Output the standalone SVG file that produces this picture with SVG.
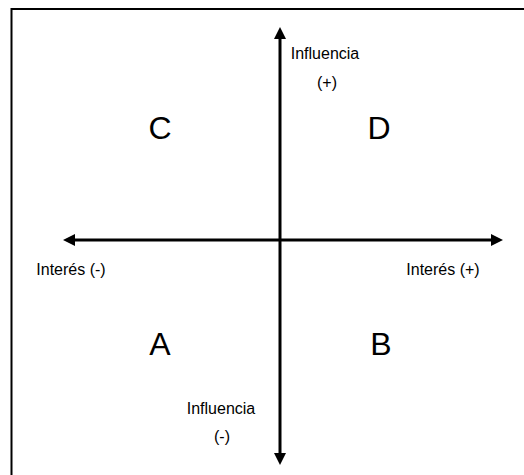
<svg xmlns="http://www.w3.org/2000/svg" width="524" height="475" viewBox="0 0 524 475">
<style>
.lbl{font-family:"Liberation Sans",Arial,sans-serif;font-size:16px;fill:#000;text-anchor:middle}
.big{font-family:"Liberation Sans",Arial,sans-serif;font-size:32px;fill:#000;text-anchor:middle}
.ax{stroke:#000;stroke-width:3;fill:none}
</style>
<defs>
<marker id="ah" viewBox="0 0 12 12" refX="0" refY="6" markerWidth="12" markerHeight="12" markerUnits="userSpaceOnUse" orient="auto">
<path d="M0,0 L12,6 L0,12 Z" fill="#000"/>
</marker>
</defs>
<rect x="0" y="0" width="524" height="475" fill="#fff"/>
<rect x="11.5" y="9" width="530" height="480" fill="none" stroke="#000" stroke-width="2"/>
<g id="connectors">
<line class="ax" x1="280" y1="240" x2="280" y2="39" marker-end="url(#ah)"/>
<line class="ax" x1="280" y1="240" x2="280" y2="453" marker-end="url(#ah)"/>
<line class="ax" x1="280" y1="240" x2="75" y2="240" marker-end="url(#ah)"/>
<line class="ax" x1="280" y1="240" x2="491" y2="240" marker-end="url(#ah)"/>
</g>
<g id="infl-plus"><text class="lbl" x="325" y="59">Influencia</text><text class="lbl" x="327" y="88">(+)</text></g>
<g id="infl-minus"><text class="lbl" x="221" y="414">Influencia</text><text class="lbl" x="222" y="442">(-)</text></g>
<g id="int-minus"><text class="lbl" x="71" y="275">Interés (-)</text></g>
<g id="int-plus"><text class="lbl" x="443" y="275">Interés (+)</text></g>
<g id="C"><text class="big" x="160" y="139">C</text></g>
<g id="D"><text class="big" x="379" y="139">D</text></g>
<g id="A"><text class="big" x="160" y="355">A</text></g>
<g id="B"><text class="big" x="381" y="355">B</text></g>
</svg>
